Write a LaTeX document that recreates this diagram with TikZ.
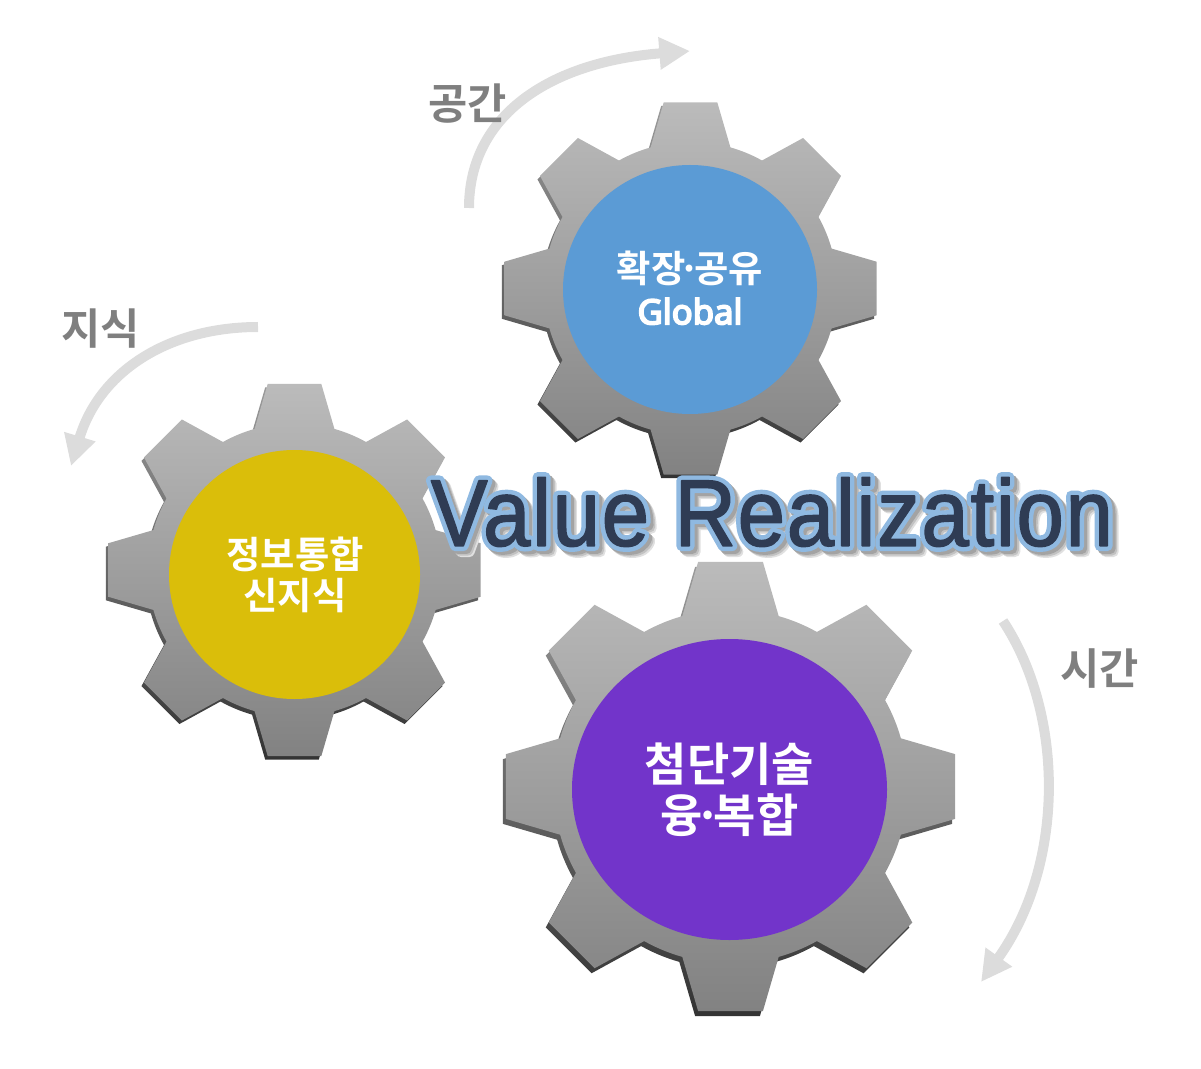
\documentclass[tikz,border=0pt]{standalone}
\usepackage{fontspec}
\usetikzlibrary{arrows.meta}

\setmainfont{Noto Sans CJK KR Bold}
\newfontfamily\latinbold[FakeBold=5]{Noto Sans}
\newfontfamily\titlefont[FakeStretch=0.9,LetterSpace=1.8,FakeBold=1.5]{Liberation Sans}
\newfontfamily\titleedge[FakeStretch=0.9,LetterSpace=1.8,FakeBold=11]{Liberation Sans}

\definecolor{gearlight}{HTML}{BBBBBB}
\definecolor{geardark}{HTML}{828282}
\definecolor{edgelight}{HTML}{9A9A9A}
\definecolor{edgedark}{HTML}{333333}
\definecolor{bluehub}{HTML}{5B9BD5}
\definecolor{yellowhub}{HTML}{DABE0A}
\definecolor{purplehub}{HTML}{7234CA}
\definecolor{flowgray}{HTML}{DCDCDC}
\definecolor{labelgray}{HTML}{7F7F7F}
\definecolor{titleink}{HTML}{2F3C54}
\definecolor{titlerim}{HTML}{8FB9E1}

\newcommand\gearpath[1]{
	(-15.8:.78*#1)
	\foreach \a in {0,45,...,315} {
		-- (\a-15.8:.78*#1) -- (\a-8.2:#1) -- (\a+8.2:#1) -- (\a+15.8:.78*#1)
		arc[start angle=\a+15.8, end angle=\a+29.2, radius=.78*#1]
	} -- cycle
}
\newcommand\glowtitle[1]{%
	\rlap{\kern4.5pt\raisebox{-4.5pt}{\color{black!12}\titleedge #1}}%
	\rlap{\kern3.4pt\raisebox{-3.4pt}{\color{black!24}\titleedge #1}}%
	\rlap{\kern2.2pt\raisebox{-2.2pt}{\color{black!36}\titleedge #1}}%
	\rlap{\color{titlerim}\titleedge #1}%
	{\color{titleink}\titlefont #1}%
}
\newcommand\dotmark{\kern-.18em·\kern-.18em}

\tikzset{
	gearbody/.style={top color=gearlight, bottom color=geardark, draw=none},
	gearedge/.style={top color=edgelight, bottom color=edgedark, draw=none},
	flow/.style={draw=flowgray, line width=7.5pt, -{Triangle[length=23pt,width=23pt]}},
	flowlabel/.style={text=labelgray, font=\fontsize{32}{36}\selectfont},
	hublabel/.style={text=white, align=center, font=\fontsize{28}{31}\selectfont},
}

\begin{document}
\begin{tikzpicture}[x=0.75pt, y=-0.75pt]

\path [use as bounding box] (0,0) rectangle (1201,1069);

% FLOWS
\coordinate (spacetail) at (469,208);
\coordinate (spacehead) at (690,51);
\draw [flow] (spacetail) .. controls (469,115) and (550,62) .. (spacehead);
\coordinate (knowtail) at (258,327);
\coordinate (knowhead) at (71,466);
\draw [flow] (knowtail) .. controls (170,327) and (100,370) .. (knowhead);
\coordinate (timetail) at (1003,621);
\coordinate (timehead) at (981,982);
\draw [flow] (timetail) .. controls (1065,715) and (1065,865) .. (timehead);

% GEARS
\begin{scope}[shift={(690.5,288.5)}]
	\path [gearedge, shift={(-2.5,3.5)}] \gearpath{188};
	\path [gearbody] \gearpath{188};
\end{scope}
\begin{scope}[shift={(294.5,570)}]
	\path [gearedge, shift={(-2.5,3.5)}] \gearpath{188};
	\path [gearbody] \gearpath{188};
\end{scope}
\begin{scope}[shift={(730.5,786.5)}]
	\path [gearedge, shift={(-3,5)}] \gearpath{227};
	\path [gearbody] \gearpath{227};
\end{scope}

% HUBS
\path [fill=bluehub] (690,289.5) ellipse [x radius=127, y radius=124.5];
\path [fill=yellowhub] (294.5,574.5) ellipse [x radius=125.5, y radius=124.5];
\path [fill=purplehub] (729.5,789.5) ellipse [x radius=157.5, y radius=150.5];

\node [hublabel] (global) at (690,288) {확장\dotmark 공유\\{\latinbold\fontsize{26}{31}\selectfont Global}};
\node [hublabel] (fusion) at (295,575) {정보통합\\신지식};
\node [hublabel, font=\fontsize{34.5}{38}\selectfont] (tech) at (729.5,790) {첨단기술\\융\dotmark 복합};

% LABELS
\node [flowlabel] (space) at (467.5,104) {공간};
\node [flowlabel] (know) at (100.5,329) {지식};
\node [flowlabel] (time) at (1099.5,669) {시간};

% TITLE
\begin{scope}[line join=round]
	\node [font=\fontsize{71}{80}\selectfont, inner sep=0pt] (title) at (772,515) {\special{pdf:code 1 j}\glowtitle{Value Realization}};
\end{scope}

\end{tikzpicture}
\end{document}
